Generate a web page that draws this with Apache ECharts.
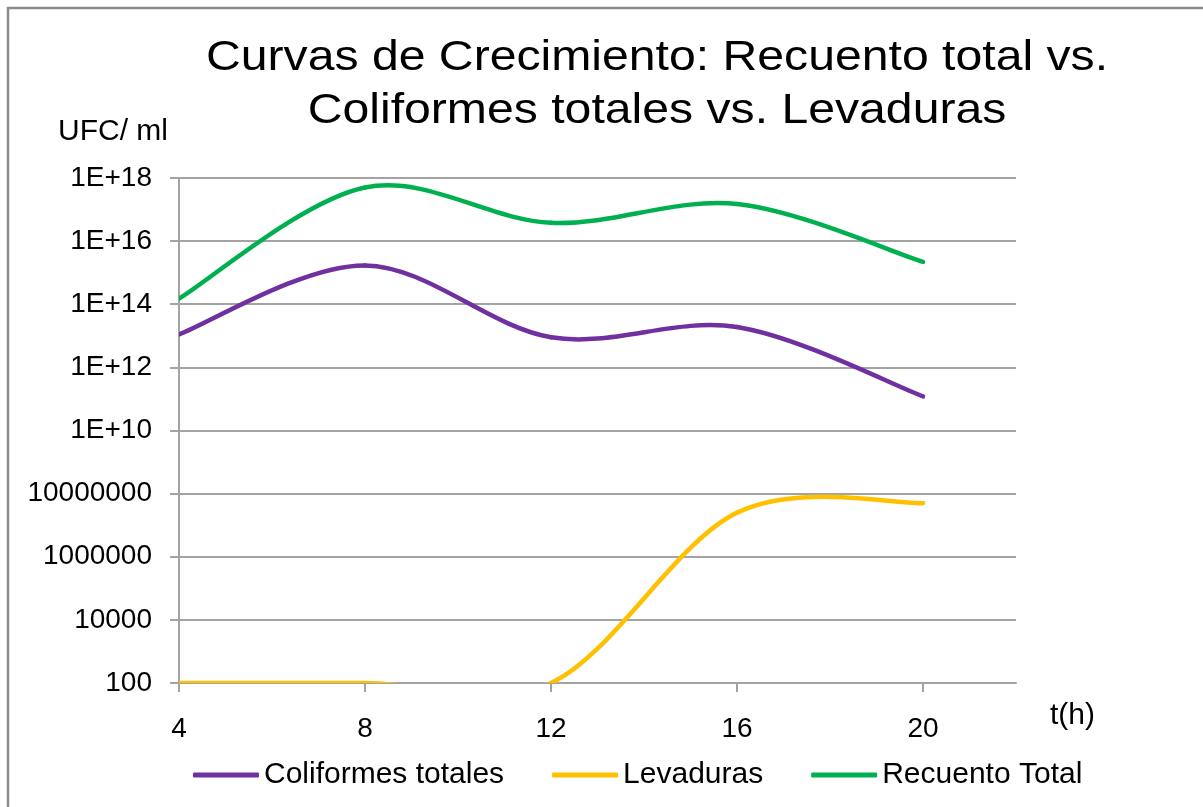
<!DOCTYPE html>
<html>
<head>
<meta charset="utf-8">
<script type="text/javascript" src="https://cdn.jsdelivr.net/npm/echarts@6/dist/echarts.min.js"></script>
</head>
<body style="margin:0">
<div id="main" style="width:1203px;height:807px;"></div>
<script type="text/javascript">
// datos (UFC/ml por hora)
var horas = [4, 8, 12, 16, 20];
var coliformes = [1.1e13, 1.7e15, 9e12, 1.9e13, 1.2e11];
var levaduras = [100, 100, 100, 2.5e7, 5e7];
var recuento = [1.5e14, 5e17, 3.8e16, 1.5e17, 2.2e15];
var ticksX = [4, 8, 12, 16, 20];
var etiquetasY = ['100', '10000', '1000000', '10000000', '1E+10', '1E+12', '1E+14', '1E+16', '1E+18'];

var titulo = 'Curvas de Crecimiento: Recuento total vs.\nColiformes totales vs. Levaduras';
var fuente = 'Liberation Sans, Arial, sans-serif';
var gris = '#a3a3a3';

function pares(ys) {
    return horas.map(function (h, i) { return [h, ys[i]]; });
}

// curva suavizada tipo Excel (Catmull-Rom) entre cada par de puntos,
// las coordenadas salen de los ejes con api.coord
function curva(ys, color) {
    return function (params, api) {
        var i = params.dataIndex;
        var n = horas.length;
        if (i >= n - 1) return null;
        var p = function (j) {
            j = Math.max(0, Math.min(n - 1, j));
            return api.coord([horas[j], ys[j]]);
        };
        var p0 = p(i - 1), p1 = p(i), p2 = p(i + 1), p3 = p(i + 2);
        return {
            type: 'bezierCurve',
            shape: {
                x1: p1[0], y1: p1[1],
                x2: p2[0], y2: p2[1],
                cpx1: p1[0] + (p2[0] - p0[0]) / 6,
                cpy1: p1[1] + (p2[1] - p0[1]) / 6,
                cpx2: p2[0] - (p3[0] - p1[0]) / 6,
                cpy2: p2[1] - (p3[1] - p1[1]) / 6
            },
            style: { fill: 'none', stroke: color, lineWidth: 4.5, lineCap: 'round' }
        };
    };
}

function serie(nombre, ys, color) {
    return {
        name: nombre,
        type: 'custom',
        clip: true,
        color: color,
        itemStyle: { color: color },
        renderItem: curva(ys, color),
        encode: { x: 0, y: 1 },
        data: pares(ys)
    };
}

var myChart = echarts.init(document.getElementById('main'));
var option = {
    backgroundColor: '#fff',
    animation: false,
    textStyle: { fontFamily: fuente, color: '#000' },
    graphic: [{
        type: 'rect',
        shape: { x: 8, y: 8, width: 1220, height: 820 },
        style: { fill: null, stroke: '#8c8c8c', lineWidth: 2.5 },
        silent: true
    }, {
        // titulo: el original sale algo ensanchado en horizontal
        type: 'text',
        x: 657,
        y: 32,
        scaleX: 1.12,
        style: {
            text: titulo,
            font: '43px ' + fuente,
            lineHeight: 53,
            fill: '#000',
            align: 'center',
            verticalAlign: 'top'
        },
        silent: true
    }, {
        type: 'text',
        left: 1050,
        top: 701,
        style: { text: 't(h)', font: '30px ' + fuente, fill: '#000' },
        silent: true
    }],
    legend: {
        left: 193,
        top: 760,
        padding: 0,
        itemGap: 48,
        itemWidth: 66,
        itemHeight: 5,
        icon: 'roundRect',
        textStyle: { fontFamily: fuente, fontSize: 30, color: '#000' },
        data: ['Coliformes totales', 'Levaduras', 'Recuento Total']
    },
    grid: { left: 179, top: 178, right: 187, bottom: 124, containLabel: false },
    xAxis: {
        type: 'value',
        min: 4,
        max: 22,
        interval: 4,
        axisLine: { lineStyle: { color: gris, width: 2 } },
        axisTick: { show: true, inside: false, length: 9, customValues: ticksX, lineStyle: { color: gris, width: 2 } },
        axisLabel: { customValues: ticksX, fontFamily: fuente, fontSize: 28, color: '#000', margin: 32 },
        splitLine: { show: false }
    },
    yAxis: {
        type: 'log',
        logBase: 100,
        min: 100,
        max: 1e18,
        name: 'UFC/ ml',
        nameLocation: 'end',
        nameGap: 46,
        nameTextStyle: { fontFamily: fuente, fontSize: 30, color: '#000', align: 'right', verticalAlign: 'middle', padding: [0, 11, 0, 0] },
        axisLine: { show: true, lineStyle: { color: gris, width: 2 } },
        axisTick: { show: true, inside: false, length: 9, lineStyle: { color: gris, width: 2 } },
        axisLabel: {
            fontFamily: fuente, fontSize: 28, color: '#000', margin: 27,
            formatter: function (v) {
                var i = Math.round((Math.log(v) / Math.LN10 - 2) / 2);
                return etiquetasY[i] !== undefined ? etiquetasY[i] : '';
            }
        },
        splitLine: { show: true, lineStyle: { color: gris, width: 2 } }
    },
    series: [
        serie('Coliformes totales', coliformes, '#7030A0'),
        serie('Levaduras', levaduras, '#FFC000'),
        serie('Recuento Total', recuento, '#00B050')
    ]
};
myChart.setOption(option);
</script>
</body>
</html>
